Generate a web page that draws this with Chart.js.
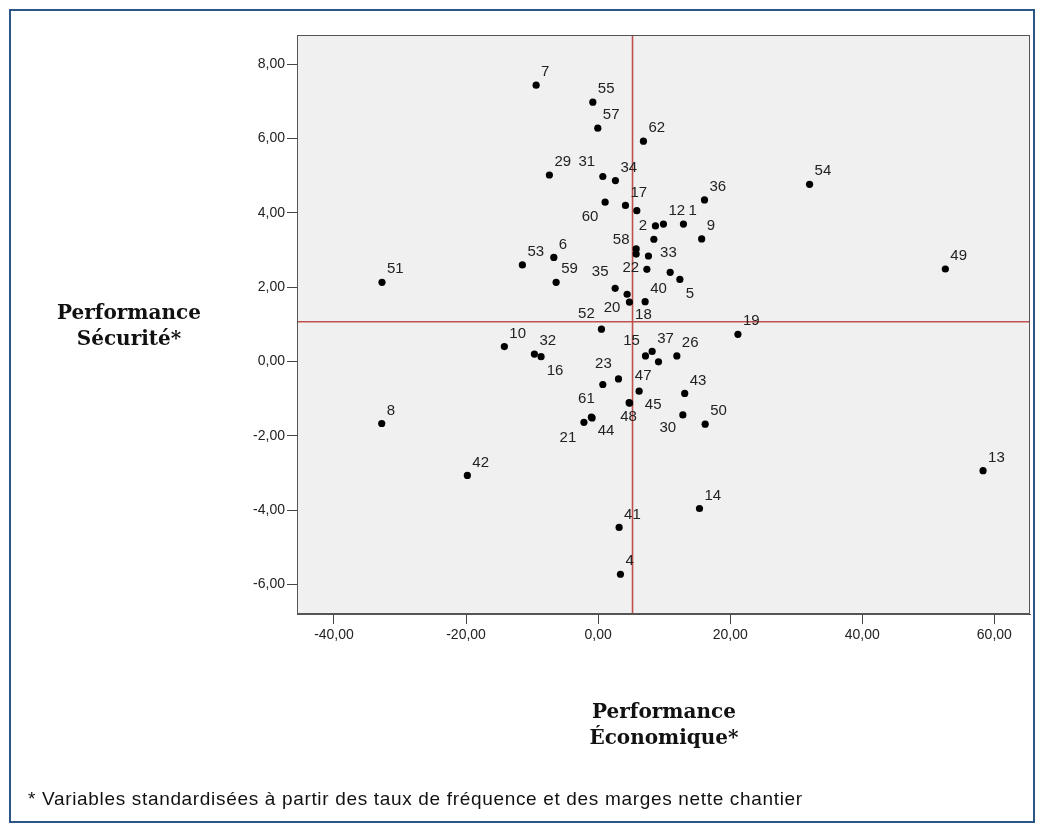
<!DOCTYPE html>
<html>
<head>
<meta charset="utf-8">
<script src="https://cdn.jsdelivr.net/npm/chart.js@4.4.1/dist/chart.umd.min.js"></script>
<style>
  body { margin: 0; background: #fff; }
  #wrap { position: relative; width: 1043px; height: 832px; overflow: hidden; }
  #chart { position: absolute; left: 0; top: 0; }
  #frame { position: absolute; left: 9px; top: 9px; width: 1026px; height: 814px;
           box-sizing: border-box; border: 2.5px solid #2c5785; }
  .axtitle { position: absolute; font-family: "DejaVu Serif", serif; font-weight: bold;
             font-size: 20px; line-height: 26px; color: #111; text-align: center; width: 240px; }
  #ytitle { left: 9px; top: 299px; }
  #xtitle { left: 544px; top: 698px; }
  #note { position: absolute; left: 28px; top: 788px; font-family: "Liberation Sans", Arial, sans-serif;
          font-size: 19px; letter-spacing: 0.67px; color: #111; white-space: nowrap; }
</style>
</head>
<body>
<div id="wrap">
  <canvas id="chart" width="1043" height="832"></canvas>
  <div id="frame"></div>
  <div class="axtitle" id="ytitle">Performance<br>Sécurité*</div>
  <div class="axtitle" id="xtitle">Performance<br>Économique*</div>
  <div id="note">* Variables standardisées à partir des taux de fréquence et des marges nette chantier</div>
</div>
<script>
// ===== DATA =====
const pointIds = ['7','55','57','62','29','31','34','60','17','','36','2','12','1','9','','58','','33','22',
  '','5','35','20','18','40','52','10','32','16','15','37','','26','19','','23','47','43','45',
  '48','61','44','21','30','50','8','42','41','4','14','13','49','54','51','53','6','59'];
const perfEco = [-9.39,-0.80,-0.05,6.86,-7.38,0.71,2.62,1.06,4.14,5.86,16.11,8.68,9.89,12.92,15.68,8.44,5.76,5.76,7.62,7.38,
  10.91,12.38,2.58,4.39,4.74,7.12,0.50,-14.20,-9.65,-8.64,7.17,8.18,9.14,11.92,21.17,0.71,3.08,6.21,13.11,4.70,
  4.77,-1.02,-0.91,-2.15,12.83,16.21,-32.77,-19.80,3.18,3.38,15.35,58.29,52.58,32.02,-32.73,-11.47,-6.71,-6.36];
const perfSecu = [7.44,6.98,6.28,5.93,5.02,4.98,4.87,4.29,4.20,4.06,4.35,3.65,3.70,3.70,3.30,3.29,3.03,2.89,2.84,2.48,
  2.40,2.21,1.97,1.81,1.60,1.61,0.87,0.40,0.20,0.13,0.15,0.27,-0.01,0.15,0.73,-0.62,-0.47,-0.80,-0.86,-1.11,
  -1.12,-1.50,-1.52,-1.64,-1.44,-1.69,-1.67,-3.07,-4.47,-5.73,-3.96,-2.94,2.49,4.77,2.13,2.60,2.80,2.13];

const meanEco = 5.21;
const meanSecu = 1.07;

const xTicks = [-40, -20, 0, 20, 40, 60];
const yTicks = [-6, -4, -2, 0, 2, 4, 6, 8];
const xRange = [-45.6, 65.4];
const yRange = [-6.8, 8.79];

// label moved away from the default upper-right spot (centre offset from the dot)
const labelShift = {
  '60': [-15, 15], '2': [-12.5, 0], '58': [-15, -9], '33': [20, -3], '22': [-16, -1],
  '5': [10, 14], '35': [-15, -16], '20': [-15, 14], '18': [14, 13], '52': [-15, -15],
  '16': [14, 14], '15': [-14, -15], '23': [-15, -15], '47': [4, -15], '61': [-5, -18],
  '21': [-16, 15], '44': [14, 13], '45': [24, 2], '48': [-1, 14], '30': [-15, 13], '31': [-16, -15]
};

const points = perfEco.map((x, i) => ({ x: x, y: perfSecu[i] }));
const fmt = v => v.toFixed(2).replace('.', ',');

// ===== PLUGINS =====
const plotBox = {
  id: 'plotBox',
  beforeDraw(chart) {
    const a = chart.chartArea, c = chart.ctx;
    c.save();
    c.fillStyle = '#f0f0f0';
    c.fillRect(a.left, a.top, a.right - a.left, a.bottom - a.top);
    c.restore();
  },
  afterDraw(chart) {
    const a = chart.chartArea, c = chart.ctx;
    c.save();
    c.strokeStyle = '#555';
    c.lineWidth = 1;
    c.strokeRect(a.left + 0.5, a.top + 0.5, a.right - a.left - 1, a.bottom - a.top - 1);
    c.restore();
  }
};

const pointLabels = {
  id: 'pointLabels',
  afterDatasetsDraw(chart) {
    const c = chart.ctx;
    const meta = chart.getDatasetMeta(0);
    c.save();
    c.font = '15px "Liberation Sans", Arial, sans-serif';
    c.fillStyle = '#222';
    c.textBaseline = 'middle';
    meta.data.forEach((el, i) => {
      const id = pointIds[i];
      if (!id) return;
      const s = labelShift[id];
      if (s) {
        c.textAlign = 'center';
        c.fillText(id, el.x + s[0], el.y + s[1]);
      } else {
        c.textAlign = 'left';
        c.fillText(id, el.x + 5, el.y - 13);
      }
    });
    c.restore();
  }
};

// ===== CHART =====
const tickFont = { family: '"Liberation Sans", Arial, sans-serif', size: 14 };

new Chart(document.getElementById('chart'), {
  type: 'scatter',
  data: {
    datasets: [
      {
        data: points,
        backgroundColor: '#000',
        borderWidth: 0,
        pointRadius: 3.6
      },
      {
        type: 'line',
        data: [{ x: meanEco, y: yRange[0] }, { x: meanEco, y: yRange[1] }],
        borderColor: '#c0504d',
        borderWidth: 1.6,
        pointRadius: 0
      },
      {
        type: 'line',
        data: [{ x: xRange[0], y: meanSecu }, { x: xRange[1], y: meanSecu }],
        borderColor: '#c0504d',
        borderWidth: 1.6,
        pointRadius: 0
      }
    ]
  },
  options: {
    responsive: false,
    animation: false,
    layout: { padding: { left: 0, top: 35, right: 13, bottom: 0 } },
    plugins: { legend: { display: false }, tooltip: { enabled: false } },
    scales: {
      x: {
        type: 'linear',
        min: xRange[0],
        max: xRange[1],
        afterBuildTicks: axis => { axis.ticks = xTicks.map(v => ({ value: v })); },
        afterFit: axis => { axis.height = 218; },
        ticks: { callback: v => fmt(v), font: tickFont, color: '#222', padding: 3, maxRotation: 0 },
        grid: { drawOnChartArea: false, drawTicks: true, tickLength: 10, color: '#444' },
        border: { display: true, color: '#555' }
      },
      y: {
        type: 'linear',
        min: yRange[0],
        max: yRange[1],
        afterBuildTicks: axis => { axis.ticks = yTicks.map(v => ({ value: v })); },
        afterFit: axis => { axis.width = 297; },
        ticks: { callback: v => fmt(v), font: tickFont, color: '#222', padding: 2 },
        grid: { drawOnChartArea: false, drawTicks: true, tickLength: 10, color: '#444' },
        border: { display: true, color: '#555' }
      }
    }
  },
  plugins: [plotBox, pointLabels]
});
</script>
</body>
</html>
